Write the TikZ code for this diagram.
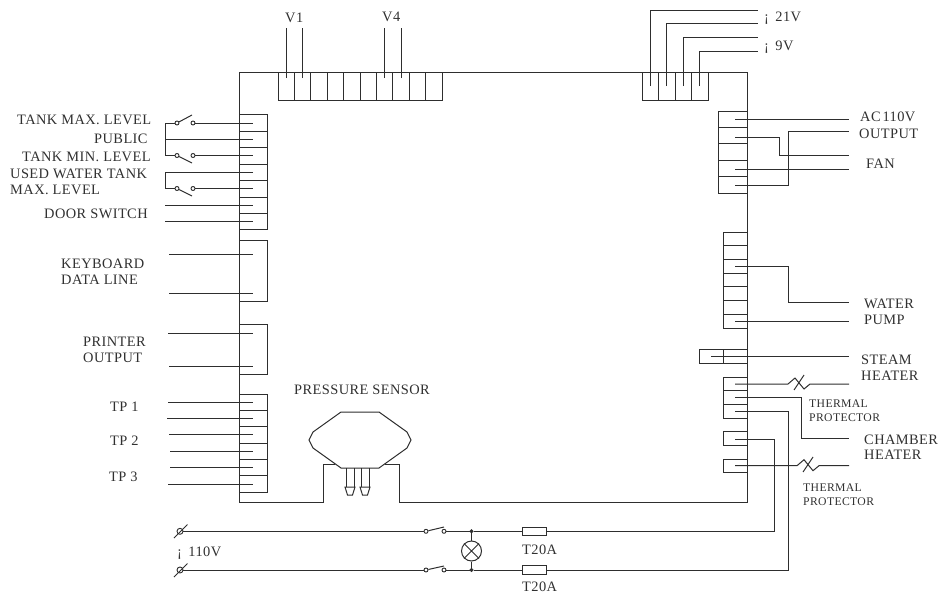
\documentclass[tikz,border=0pt]{standalone}
\usepackage{fontspec}
\setmainfont[LetterSpace=3]{Liberation Serif}
\definecolor{ink}{HTML}{2E2E2E}
\definecolor{txt}{HTML}{303030}
\tikzset{
  wire/.style={draw=ink,line width=1pt,line join=miter},
  lab/.style={anchor=base west,inner sep=0pt,text=txt,font=\fontsize{14.4}{16}\selectfont},
  smalllab/.style={anchor=base west,inner sep=0pt,text=txt,font=\fontsize{11.7}{14}\selectfont},
  contact/.style={circle,draw=ink,line width=0.9pt,fill=white,inner sep=0pt,minimum size=4pt},
  term/.style={circle,draw=ink,line width=0.9pt,fill=white,inner sep=0pt,minimum size=6pt},
  junction/.style={circle,draw=ink,fill=ink,inner sep=0pt,minimum size=3.6pt},
  lamp/.style={circle,draw=ink,line width=1pt,inner sep=0pt,minimum size=20pt},
  fuse/.style={rectangle,draw=ink,line width=1pt,fill=white,inner sep=0pt,minimum width=24pt,minimum height=8.6pt}
}
\begin{document}
\begin{tikzpicture}[x=1pt,y=-1pt]
\useasboundingbox (0,0) rectangle (941,594);
% main outline with sensor notch
\draw[wire] (335.4,464) -- (323,464) -- (323,502) -- (239,502) -- (239,72) -- (747,72) -- (747,502) -- (399,502) -- (399,464) -- (384.6,464);
% top connectors
\draw[wire] (278,72) rectangle (442,100);
\foreach \x in {294.4,310.8,327.2,343.6,360,376.4,392.8,409.2,425.6} \draw[wire] (\x,72) -- (\x,100);
\draw[wire] (642,72) rectangle (708,100);
\foreach \x in {658.5,675,691.5} \draw[wire] (\x,72) -- (\x,100);
% left connectors
\draw[wire] (239,114.5) rectangle (267,229.5);
\foreach \y in {131,147.5,164,180.5,197,213} \draw[wire] (239,\y) -- (267,\y);
\draw[wire] (239,240) rectangle (267,301.5);
\draw[wire] (239,324.7) rectangle (267,374);
\draw[wire] (239,394) rectangle (267,492);
\foreach \y in {410.3,426.6,443,459.3,475.7} \draw[wire] (239,\y) -- (267,\y);
% right connectors
\draw[wire] (718,111) rectangle (747,193);
\foreach \y in {127.4,143.8,160.2,176.6} \draw[wire] (718,\y) -- (747,\y);
\draw[wire] (723,232) rectangle (747,328);
\foreach \y in {245.7,259.4,273.1,286.9,300.6,314.3} \draw[wire] (723,\y) -- (747,\y);
\draw[wire] (699,349) rectangle (747,363);
\draw[wire] (723,349) -- (723,363);
\draw[wire] (723,377) rectangle (747,418);
\foreach \y in {390.7,404.3} \draw[wire] (723,\y) -- (747,\y);
\draw[wire] (723,431.7) rectangle (747,445.7);
\draw[wire] (723,459) rectangle (747,472.7);
% pin coordinates
\foreach \x [count=\i] in {286,302.5,384,401} {
  \coordinate (vp\i) at (\x,78); \coordinate (vf\i) at (\x,28);
  \draw[wire] (vp\i) -- (vf\i);}
\foreach \x/\y [count=\i] in {650/11,666.5/24,683/38,699.5/52} {
  \coordinate (dp\i) at (\x,86); \coordinate (df\i) at (758,\y);
  \draw[wire] (dp\i) |- (df\i);}
\foreach \y/\xa [count=\i] in {139.5/165,205/165,221/165,254.5/169,293/169,333/168,366/169,402/168,418/167,434.5/169,451/170,467.5/170,484/168} {
  \coordinate (lp\i) at (253,\y); \coordinate (lf\i) at (\xa,\y);
  \draw[wire] (lf\i) -- (lp\i);}
% level switches
\foreach \n/\y/\b in {a/123/115,b/155.5/163,c/188.5/196} {
  \node[contact] (\n1) at (177,\y) {};
  \node[contact] (\n2) at (193,\y) {};
  \coordinate (\n p) at (253,\y);
  \coordinate (\n t) at (192,\b);
  \draw[wire] (\n1) -- (\n t);
  \draw[wire] (\n2) -- (\n p);
}
\coordinate (fa) at (165,123); \coordinate (fb) at (165,155.5);
\draw[wire] (a1) -- (fa) -- (fb) -- (b1);
\coordinate (cu) at (253,172); \coordinate (cc) at (165,172); \coordinate (cd) at (165,188.5);
\draw[wire] (cu) -- (cc) -- (cd) -- (c1);
% right side wiring
\foreach \n/\y in {r1/119.5,r2/137.5,r3/169,r4/185,r5/266,r6/321,r7/384,r8/397.3,r9/411.7,r10/439,r11/465.7} \coordinate (\n) at (735,\y);
\coordinate (acA) at (849,119.5); \draw[wire] (r1) -- (acA);
\coordinate (acB) at (849,155); \draw[wire] (r2) -- (779,137.5) -- (779,155) -- (acB);
\coordinate (acC) at (849,169); \draw[wire] (r3) -- (acC);
\coordinate (acD) at (849,131.7); \draw[wire] (r4) -- (788,185) -- (788,131.7) -- (acD);
\coordinate (wp) at (849,302); \draw[wire] (r5) -- (788,266) -- (788,302) -- (wp);
\coordinate (wq) at (849,321); \draw[wire] (r6) -- (wq);
\coordinate (st1) at (711,356); \coordinate (st2) at (849,356); \draw[wire] (st1) -- (st2);
\coordinate (ch) at (849,438); \draw[wire] (r8) -- (801.7,397.3) -- (801.7,438) -- (ch);
% thermal protectors
\coordinate (t1) at (849,384);
\draw[wire] (r7) -- (788,384) -- (795,378) -- (804,389) -- (810,384) -- (t1);
\draw[wire] (804,375) -- (794,390);
\coordinate (t2) at (849,465.7);
\draw[wire] (r11) -- (797,465.7) -- (804,459.7) -- (813,470.7) -- (819,465.7) -- (t2);
\draw[wire] (813,457) -- (803,472);
% pressure sensor
\draw[wire,fill=white] (341,412) -- (379,412) -- (407,432) -- (411,440) -- (407,448) -- (379,468) -- (341,468) -- (313,448) -- (309,440) -- (313,432) -- cycle;
\foreach \a/\b in {346/354,361/369} {
  \draw[wire] (\a,468) -- (\a,487) (\b,468) -- (\b,487);
  \draw[wire] (\a-1,487) -- (\b+1,487) -- (\b-1.5,495) -- (\a+1.5,495) -- cycle;
}
% mains
\node[term] (tm1) at (180,531.3) {};
\node[term] (tm2) at (180,570) {};
\draw[wire] (174,538) -- (187.5,524.5) (174,577) -- (187.5,563.5);
\node[contact] (s1) at (426,531.3) {};
\node[contact] (s2) at (444,531.3) {};
\node[contact] (s3) at (426,570) {};
\node[contact] (s4) at (444,570) {};
\coordinate (s1t) at (444,527); \coordinate (s3t) at (444,566);
\draw[wire] (s1) -- (s1t) (s3) -- (s3t);
\node[junction] (j1) at (471.5,531.3) {};
\node[junction] (j2) at (471.5,570) {};
\node[lamp] (lp) at (471.5,551) {};
\draw[wire] (tm1) -- (s1) (tm2) -- (s3);
\draw[wire] (s2) -- (j1) (s4) -- (j2);
\draw[wire] (j1) -- (lp) -- (j2);
\draw[wire] (lp.north west) -- (lp.south east) (lp.north east) -- (lp.south west);
\node[fuse] (f1) at (534,531.3) {};
\node[fuse] (f2) at (534,570) {};
\draw[wire] (j1) -- (f1) (j2) -- (f2);
\draw[wire] (f1) -- (774,531.3) -- (774,439) -- (r10);
\draw[wire] (f2) -- (788,570) -- (788,411.7) -- (r9);
% labels
\node[lab] (lb1) at (285,23) {V1};
\node[lab] (lb2) at (382,22) {V4};
\node[lab] (lb3) at (764,22) {¡ \,21V};
\node[lab] (lb4) at (764,50) {¡ \,9V};
\node[lab] (lb5) at (17,124) {TANK MAX. LEVEL};
\node[lab] (lb6) at (94,143) {PUBLIC};
\node[lab] (lb7) at (22,161) {TANK MIN. LEVEL};
\node[lab] (lb8) at (10,178) {USED WATER TANK};
\node[lab] (lb9) at (10,194) {MAX. LEVEL};
\node[lab] (lb10) at (44,218) {DOOR SWITCH};
\node[lab] (lb11) at (61,268) {KEYBOARD};
\node[lab] (lb12) at (61,284) {DATA LINE};
\node[lab] (lb13) at (83,346) {PRINTER};
\node[lab] (lb14) at (83,362) {OUTPUT};
\node[lab] (lb15) at (110,411) {TP 1};
\node[lab] (lb16) at (110,445) {TP 2};
\node[lab] (lb17) at (109,481) {TP 3};
\node[lab] (lb18) at (294,394) {PRESSURE SENSOR};
\node[lab] (lb19) at (177,556) {¡ \,110V};
\node[lab] (lb20) at (522,554) {T20A};
\node[lab] (lb21) at (522,591) {T20A};
\node[lab] (lb22) at (860,121) {AC{\fontsize{7}{8}\selectfont\ }110V};
\node[lab] (lb23) at (859,138) {OUTPUT};
\node[lab] (lb24) at (866,168) {FAN};
\node[lab] (lb25) at (864,308) {WATER};
\node[lab] (lb26) at (864,324) {PUMP};
\node[lab] (lb27) at (861,364) {STEAM};
\node[lab] (lb28) at (861,380) {HEATER};
\node[smalllab] (lb29) at (809,407) {THERMAL};
\node[smalllab] (lb30) at (809,421) {PROTECTOR};
\node[lab] (lb31) at (864,444) {CHAMBER};
\node[lab] (lb32) at (864,459) {HEATER};
\node[smalllab] (lb33) at (803,491) {THERMAL};
\node[smalllab] (lb34) at (803,505) {PROTECTOR};
\end{tikzpicture}
\end{document}
